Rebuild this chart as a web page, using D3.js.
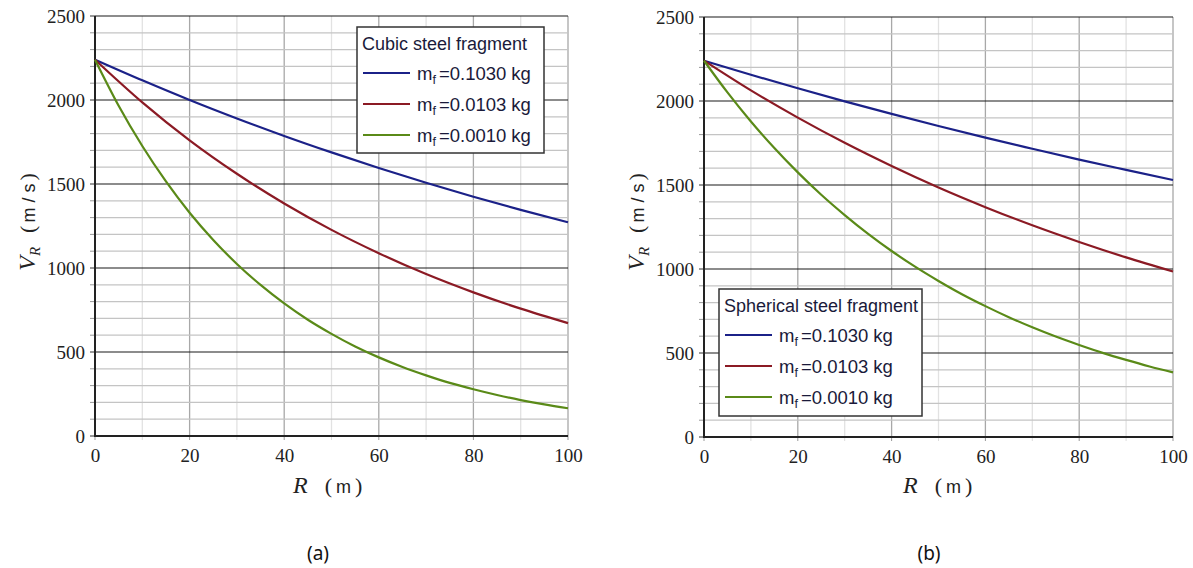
<!DOCTYPE html>
<html><head><meta charset="utf-8">
<script src="https://cdn.jsdelivr.net/npm/d3@7"></script>
<style>body{margin:0;background:#fff}svg{display:block}</style>
</head><body>
<script>
// ---- data ----
const xTicks = [0, 20, 40, 60, 80, 100];
const yTicks = [0, 500, 1000, 1500, 2000, 2500];
const legendLabels = ["0.1030", "0.0103", "0.0010"];
const seriesColors = ["#1b2188", "#8b1a24", "#5a8a18"];

const R10 = [0, 10, 20, 30, 40, 50, 60, 70, 80, 90, 100];
const R5 = [0, 5, 10, 15, 20, 25, 30, 35, 40, 45, 50, 55, 60, 65, 70, 75, 80, 85, 90, 95, 100];

// (a) cubic fragment
const cubicBlue = [2240, 2117, 2000, 1890, 1786, 1688, 1595, 1507, 1424, 1346, 1272];
const cubicRed = [2240, 1986, 1760, 1561, 1384, 1227, 1088, 964, 855, 758, 672];
const cubicGreen = [2240, 1966, 1726, 1515, 1329, 1167, 1024, 899, 789, 692, 608, 533, 468, 411, 361, 316, 278, 244, 214, 188, 165];
// (b) spherical fragment
const sphBlue = [2240, 2156, 2076, 1998, 1923, 1851, 1782, 1716, 1651, 1590, 1530];
const sphRed = [2240, 2063, 1901, 1751, 1613, 1485, 1368, 1260, 1161, 1069, 985];
const sphGreen = [2240, 2051, 1878, 1720, 1575, 1442, 1321, 1209, 1107, 1014, 929, 850, 779, 713, 653, 598, 548, 501, 459, 420, 385];

const W = 1193, H = 568;
const SERIF = '"Liberation Serif", "DejaVu Serif", "Times New Roman", Times, serif';
const SANS = '"Liberation Sans", Arial, "DejaVu Sans", sans-serif';
const svg = d3.select("body").append("svg").attr("width", W).attr("height", H);

function panel(cfg) {
  const x = d3.scaleLinear().domain([0, 100]).range(cfg.xr);
  const y = d3.scaleLinear().domain([0, 2500]).range(cfg.yr);
  const g = svg.append("g");

  g.selectAll(".vg").data(d3.range(10, 101, 10)).enter().append("line")
    .attr("x1", d => x(d)).attr("x2", d => x(d))
    .attr("y1", y(0)).attr("y2", y(2500))
    .attr("stroke", d => d % 20 === 0 ? "#a8a8a8" : "#e2e2e2")
    .attr("stroke-width", 1.3);
  g.selectAll(".hg").data(d3.range(100, 2501, 100)).enter().append("line")
    .attr("x1", x(0)).attr("x2", x(100))
    .attr("y1", d => y(d)).attr("y2", d => y(d))
    .attr("stroke", d => d % 500 === 0 ? "#1a1a1a" : "#c4c4c4")
    .attr("stroke-width", d => d % 500 === 0 ? 1.2 : 1.3);

  g.selectAll(".yt").data(d3.range(0, 2501, 100)).enter().append("line")
    .attr("x1", x(0) - 5).attr("x2", x(0))
    .attr("y1", d => y(d)).attr("y2", d => y(d))
    .attr("stroke", d => d % 500 === 0 ? "#333" : "#999").attr("stroke-width", 1);
  g.selectAll(".xt").data(d3.range(0, 101, 10)).enter().append("line")
    .attr("x1", d => x(d)).attr("x2", d => x(d))
    .attr("y1", y(0)).attr("y2", y(0) + 4)
    .attr("stroke", d => d % 20 === 0 ? "#999" : "#ddd").attr("stroke-width", 1);

  const ya = d3.axisLeft(y).tickValues(yTicks).tickFormat(d3.format("d")).tickSize(0).tickPadding(10);
  const yg = g.append("g").attr("transform", `translate(${x(0)},0)`).call(ya);
  yg.style("font-family", SERIF).style("font-size", "19px");
  yg.select(".domain").remove();
  yg.selectAll("text").style("font-family", SERIF).style("font-size", "19px").attr("fill", "#222");
  const xa = d3.axisBottom(x).tickValues(xTicks).tickFormat(d3.format("d")).tickSize(0).tickPadding(13);
  const xg = g.append("g").attr("transform", `translate(0,${y(0)})`).call(xa);
  xg.style("font-family", SERIF).style("font-size", "19px");
  xg.select(".domain").remove();
  xg.selectAll("text").style("font-family", SERIF).style("font-size", "19px").attr("fill", "#222");

  g.append("line").attr("x1", x(0)).attr("x2", x(0)).attr("y1", y(0) + 1).attr("y2", y(2500))
    .attr("stroke", "#222").attr("stroke-width", 2);
  g.append("line").attr("x1", x(0)).attr("x2", x(100)).attr("y1", y(0)).attr("y2", y(0))
    .attr("stroke", "#222").attr("stroke-width", 2.2);

  const line = d3.line().x(d => x(d[0])).y(d => y(d[1])).curve(d3.curveMonotoneX);
  cfg.series.forEach((s, i) => {
    g.append("path").datum(s.r.map((r, j) => [r, s.v[j]]))
      .attr("d", line).attr("fill", "none")
      .attr("stroke", seriesColors[i]).attr("stroke-width", 2.2);
  });

  // y label
  const yl = g.append("text")
    .attr("transform", `translate(${x(0) - 60},222) rotate(-90)`)
    .attr("text-anchor", "middle").attr("fill", "#222");
  yl.append("tspan").text("V").style("font-family", SERIF).style("font-style", "italic").style("font-size", "24px");
  yl.append("tspan").text("R").style("font-family", SERIF).style("font-style", "italic").style("font-size", "15px").attr("dy", 5);
  yl.append("tspan").text("(").style("font-family", SERIF).style("font-size", "22px").attr("dy", -5).attr("dx", 14);
  yl.append("tspan").text("m / s").style("font-family", SANS).style("font-size", "18px").attr("dx", 3);
  yl.append("tspan").text(")").style("font-family", SERIF).style("font-size", "22px").attr("dx", 3);

  // x label
  const xl = g.append("text").attr("x", cfg.xlx).attr("y", 493).attr("fill", "#222");
  xl.append("tspan").text("R").style("font-family", SERIF).style("font-style", "italic").style("font-size", "24px");
  xl.append("tspan").text("(").style("font-family", SERIF).style("font-size", "22px").attr("dx", 17);
  xl.append("tspan").text("m").style("font-family", SANS).style("font-size", "18px").attr("dx", 4);
  xl.append("tspan").text(")").style("font-family", SERIF).style("font-size", "22px").attr("dx", 4);

  // legend
  const L = cfg.legend;
  const lg = g.append("g");
  lg.append("rect").attr("x", L.x).attr("y", L.y).attr("width", L.w).attr("height", L.h)
    .attr("fill", "#fff").attr("stroke", "#333").attr("stroke-width", 1.5);
  lg.append("text").attr("x", L.x + 5).attr("y", L.y + 23).text(L.title)
    .style("font-family", SANS).style("font-size", "18px").attr("fill", "#1a1a3a");
  legendLabels.forEach((lab, i) => {
    const yy = L.y + 46 + i * 31;
    lg.append("line").attr("x1", L.x + 6).attr("x2", L.x + 53).attr("y1", yy).attr("y2", yy)
      .attr("stroke", seriesColors[i]).attr("stroke-width", 2.2);
    const t = lg.append("text").attr("x", L.x + 60).attr("y", yy + 7)
      .style("font-family", SANS).style("font-size", "18.5px").attr("fill", "#1a1a3a");
    t.append("tspan").text("m");
    t.append("tspan").text("f").style("font-size", "12.5px").attr("dy", 4);
    t.append("tspan").text("=" + lab).attr("dy", -4).attr("dx", 3);
    t.append("tspan").text("kg").attr("dx", 5);
  });

  svg.append("text").attr("x", cfg.capx).attr("y", 560).attr("text-anchor", "middle")
    .style("font-family", '"Noto Sans", "DejaVu Sans", sans-serif').style("font-size", "19px")
    .attr("fill", "#111").text(cfg.cap);
}

panel({
  xr: [95, 568], yr: [436, 16], xlx: 293, cap: "(a)", capx: 318,
  legend: {x: 357, y: 27, w: 187, h: 126, title: "Cubic steel fragment"},
  series: [{r: R10, v: cubicBlue}, {r: R10, v: cubicRed}, {r: R5, v: cubicGreen}]
});
panel({
  xr: [704, 1173], yr: [437, 17], xlx: 903, cap: "(b)", capx: 929,
  legend: {x: 719, y: 289, w: 203, h: 127, title: "Spherical steel fragment"},
  series: [{r: R10, v: sphBlue}, {r: R10, v: sphRed}, {r: R5, v: sphGreen}]
});
</script>
</body></html>
